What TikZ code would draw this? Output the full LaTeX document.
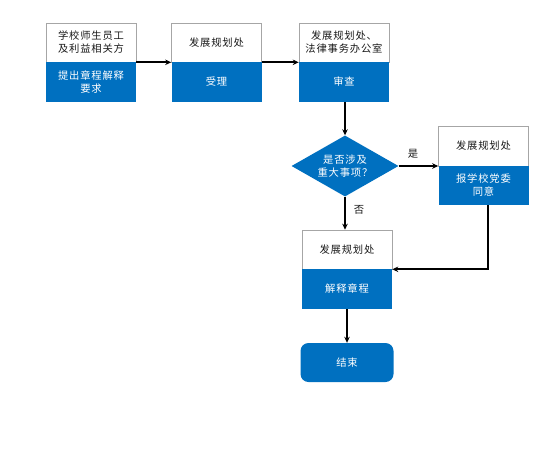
\documentclass[tikz,border=0pt]{standalone}
\usepackage{fontspec}
\setmainfont{Noto Sans CJK SC}[LetterSpace=8]
\usetikzlibrary{shapes.geometric,arrows.meta}
\definecolor{mblue}{RGB}{0,112,192}
\begin{document}
\begin{tikzpicture}[x=1pt,y=-1pt,
  toppart/.style={draw=black!35, line width=0.6pt, fill=white, minimum width=90pt, minimum height=39pt, inner sep=0pt, align=center, font=\fontsize{10.3}{13}\selectfont, text=black!90},
  botpart/.style={fill=mblue, text=white, minimum width=90pt, minimum height=40pt, inner sep=0pt, align=center, font=\fontsize{10.3}{13}\selectfont},
  conn/.style={line width=1.8pt, -{Stealth[length=6pt,width=5.5pt]}},
  lbl/.style={font=\fontsize{10.3}{12}\selectfont, text=black!90, inner sep=0pt}]
\useasboundingbox (0,0) rectangle (554,459);
% box 1
\node[toppart] (b1t) at (91,42.5) {学校师生员工\\及利益相关方};
\node[botpart] (b1b) at (91,82) {提出章程解释\\要求};
% box 2
\node[toppart] (b2t) at (216.5,42.5) {发展规划处};
\node[botpart] (b2b) at (216.5,82) {受理};
% box 3
\node[toppart] (b3t) at (344,42.5) {发展规划处、\\法律事务办公室};
\node[botpart] (b3b) at (344,82) {审查};
% diamond
\node[diamond, fill=mblue, text=white, aspect=1.75, minimum width=107pt, minimum height=61pt, inner sep=0pt, align=center, font=\fontsize{10.3}{13}\selectfont] (dia) at (345,166) {是否涉及\\重大事项？};
% box 4
\node[toppart, minimum height=40pt] (b4t) at (483.5,146) {发展规划处};
\node[botpart, minimum height=39pt] (b4b) at (483.5,185.5) {报学校党委\\同意};
% box 5
\node[toppart] (b5t) at (347,249.5) {发展规划处};
\node[botpart] (b5b) at (347,289) {解释章程};
% end
\node[fill=mblue, text=white, rounded corners=8pt, minimum width=93pt, minimum height=39pt, inner sep=0pt, font=\fontsize{10.3}{13}\selectfont] (end) at (347,362.5) {结束};
% connectors
\draw[conn] (b1t.south east) -- (b2t.south west);
\draw[conn] (b2t.south east) -- (b3t.south west);
\draw[conn] (b3b.south -| dia.north) -- (dia.north);
\draw[conn] (dia.east) -- (dia.east -| b4t.west);
\draw[conn] (dia.south) -- (dia.south |- b5t.north);
\draw[conn] ([xshift=4.5pt]b4b.south) |- (b5t.south east);
\draw[conn] (b5b.south -| end.north) -- (end.north);
% labels
\node[lbl] (yes) at (413,154) {是};
\node[lbl] (no) at (359,210) {否};
\end{tikzpicture}
\end{document}
